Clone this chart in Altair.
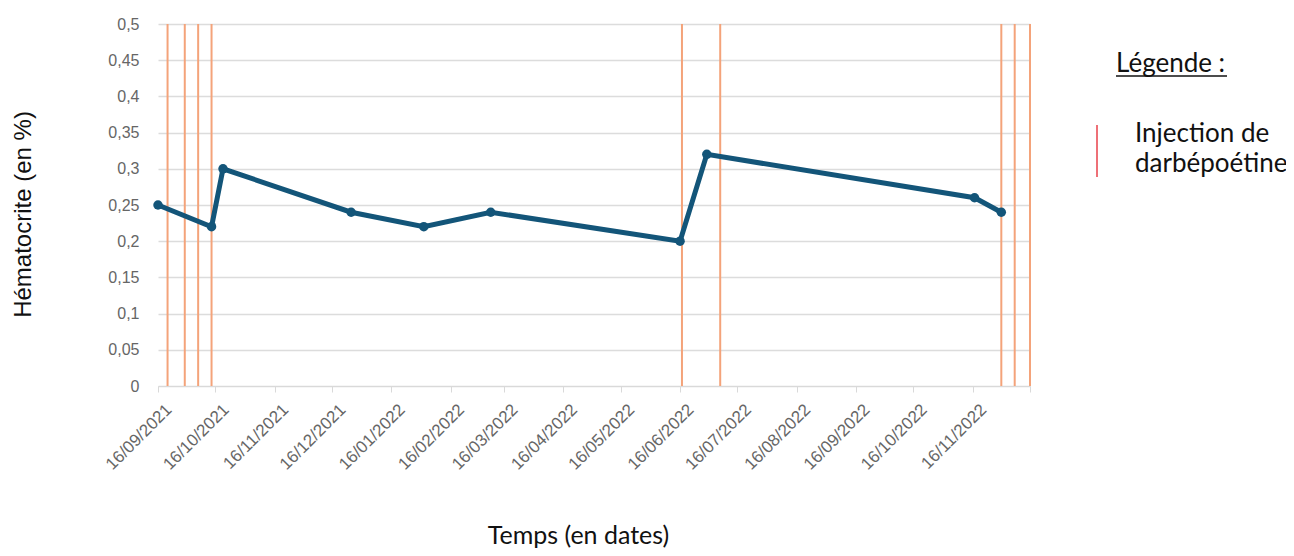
import altair as alt
import pandas as pd

# Measurement dates and hematocrit values
dates = ["2021-09-16", "2021-10-14", "2021-10-20", "2021-12-26", "2022-02-02",
         "2022-03-09", "2022-06-16", "2022-06-30", "2022-11-17", "2022-12-01"]
hematocrit = [0.25, 0.22, 0.30, 0.24, 0.22, 0.24, 0.20, 0.32, 0.26, 0.24]

# Darbepoetin injection dates
injections = ["2021-09-21", "2021-09-30", "2021-10-07", "2021-10-14",
              "2022-06-17", "2022-07-07",
              "2022-12-01", "2022-12-08", "2022-12-16"]

# Monthly axis ticks (16th of each month)
tick_months = [(2021, m) for m in range(9, 13)] + [(2022, m) for m in range(1, 13)]

df = pd.DataFrame({"date": dates, "h": hematocrit})
inj = pd.DataFrame({"date": injections})

tick_values = [alt.DateTime(year=y, month=m, date=16, utc=True) for y, m in tick_months]
domain = [alt.DateTime(year=2021, month=9, date=16, utc=True),
          alt.DateTime(year=2022, month=12, date=16, utc=True)]

xscale = alt.Scale(type="utc", domain=domain, nice=False)
yscale = alt.Scale(domain=[0, 0.5], nice=False)

xaxis = alt.Axis(
    values=tick_values,
    labelExpr="datum.value >= datetime(2022, 11, 10) ? '' : utcFormat(datum.value, '%d/%m/%Y')",
    labelAngle=315, labelAlign="right", labelBaseline="top", labelPadding=9,
    labelOffset=5, labelOverlap=False,
    labelFont="Liberation Sans", labelFontSize=17, labelColor="#666666",
    grid=False, domainColor="#d9d9d9", tickColor="#d9d9d9", tickSize=6,
    title="Temps (en dates)", titleFont="Lato", titleFontSize=25,
    titleFontWeight="normal", titleColor="#111111",
    titleX=420, titleY=157, titleAlign="center", titleBaseline="alphabetic",
)
yaxis = alt.Axis(
    values=[i * 0.05 for i in range(11)],
    labelExpr="replace(format(datum.value, '.2~f'), '.', ',')",
    labelFont="Liberation Sans", labelFontSize=16, labelColor="#666666",
    labelPadding=19, ticks=False, domain=False,
    gridColor="#dcdcdc", gridWidth=1.5,
    title="Hématocrite (en %)", titleFont="Liberation Sans", titleFontSize=24,
    titleFontWeight="normal", titleColor="#111111",
    titleX=-135, titleY=190, titleAngle=270, titleAlign="center", titleBaseline="middle",
)

rules = alt.Chart(inj).mark_rule(color="#f4a37a", strokeWidth=2).encode(
    x=alt.X("date:T", scale=xscale, axis=xaxis)
)

line = alt.Chart(df).mark_line(color="#135579", strokeWidth=5,
                               point=alt.OverlayMarkDef(color="#135579", size=90, filled=True)).encode(
    x=alt.X("date:T", scale=xscale, axis=xaxis),
    y=alt.Y("h:Q", scale=yscale, axis=yaxis),
)

legend_df = pd.DataFrame({"t": ["Légende :"]})
legend_title = alt.Chart(legend_df).mark_text(
    font="Lato", fontSize=26, color="#111111", align="left", baseline="alphabetic"
).encode(text="t:N", x=alt.value(958), y=alt.value(48))
legend_ul = alt.Chart(legend_df).mark_rule(color="#111111", strokeWidth=1.3).encode(
    x=alt.value(958), x2=alt.value(1069), y=alt.value(52)
)
legend_line = alt.Chart(legend_df).mark_rule(color="#e8404a", strokeWidth=1.5).encode(
    x=alt.value(939), y=alt.value(101), y2=alt.value(153)
)
legend_text = alt.Chart(pd.DataFrame({"t": ["Injection de", "darbépoétine"], "yy": [118, 148]})).mark_text(
    font="Lato", fontSize=26, color="#111111", align="left", baseline="alphabetic"
).encode(text="t:N", x=alt.value(977), y=alt.Y("yy:Q", scale=None))

chart = alt.layer(rules, line, legend_title, legend_ul, legend_line, legend_text).properties(
    width=872, height=362,
    autosize="none",
    padding={"left": 150, "top": 16, "right": 256, "bottom": 162},
).configure_view(stroke=None)

chart.save("out.html", embed_options={"renderer": "svg", "actions": False})
